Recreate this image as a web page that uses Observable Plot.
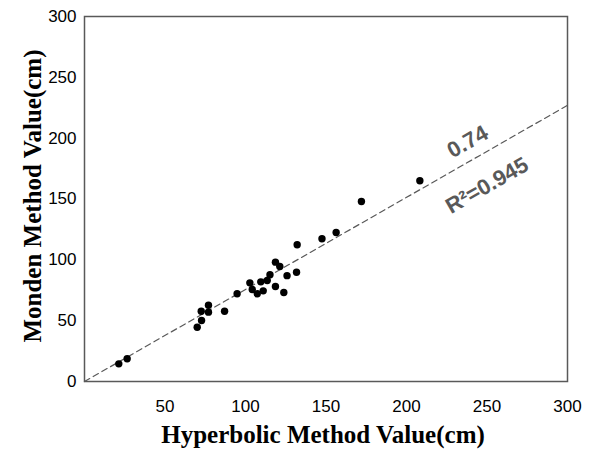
<!DOCTYPE html>
<html>
<head>
<meta charset="utf-8">
<script src="https://cdn.jsdelivr.net/npm/d3@7"></script>
<script src="https://cdn.jsdelivr.net/npm/@observablehq/plot@0.6"></script>
<style>
  html, body { margin: 0; padding: 0; background: #fff; }
</style>
</head>
<body>
<div id="chart"></div>
<script>
const hyperbolic = [21.3, 26.5, 70.0, 72.7, 72.5, 77.0, 77.0, 87.0, 94.8, 102.7, 104.2, 107.3, 109.5, 111.0, 113.5, 115.2, 118.6, 121.3, 118.6, 123.8, 125.8, 131.7, 132.1, 147.5, 156.3, 172.0, 208.3];
const monden     = [14.5, 18.7, 44.6, 50.1, 57.8, 57.0, 62.7, 57.8, 72.1, 81.1, 75.6, 72.1, 81.9, 74.5, 83.0, 87.7, 98.1, 94.5, 78.1, 73.1, 87.0, 89.8, 112.4, 117.3, 122.5, 147.9, 165.0];
const xTicks = [50, 100, 150, 200, 250, 300];
const yTicks = [0, 50, 100, 150, 200, 250, 300];
const fitLineX = [0, 300];
const fitLineY = [0, 227];
const slopeLabel = "0.74";
const r2Label = "R\u00B2=0.945";
const xTitle = "Hyperbolic Method Value(cm)";
const yTitle = "Monden Method Value(cm)";

const points = hyperbolic.map((x, i) => ({x, y: monden[i]}));
const fit = fitLineX.map((x, i) => ({x, y: fitLineY[i]}));
const angle = -29.7;

const chart = Plot.plot({
  width: 593,
  height: 452,
  marginLeft: 84,
  marginRight: 26,
  marginTop: 16,
  marginBottom: 71,
  style: {fontFamily: "Liberation Sans, Arial, sans-serif", background: "#fff", overflow: "visible"},
  x: {domain: [0, 300]},
  y: {domain: [0, 300]},
  marks: [
    Plot.frame({stroke: "#595959", strokeWidth: 1.5}),
    Plot.line(fit, {x: "x", y: "y", stroke: "#595959", strokeWidth: 1.2, strokeDasharray: "6,4"}),
    Plot.dot(points, {x: "x", y: "y", r: 3.7, fill: "#000", stroke: "none"}),
    Plot.axisX(xTicks, {tickSize: 0, tickPadding: 18, fontSize: 17, fill: "#000", label: null}),
    Plot.axisY(yTicks, {tickSize: 0, tickPadding: 8, fontSize: 17, fill: "#000", label: null}),
    Plot.text([slopeLabel], {x: 238, y: 197, text: d => d, rotate: angle, fontSize: 22, fontWeight: "bold", fill: "#595959"}),
    Plot.text([r2Label], {x: 250, y: 161, text: d => d, rotate: angle, fontSize: 22, fontWeight: "bold", fill: "#595959"}),
    Plot.text([xTitle], {frameAnchor: "bottom", dy: 61, dx: -3, text: d => d, textAnchor: "middle", fontSize: 25, fontWeight: "bold", fontFamily: "Liberation Serif, Times New Roman, serif", fill: "#000"}),
    Plot.text([yTitle], {frameAnchor: "left", dx: -52, dy: -3, rotate: -90, text: d => d, textAnchor: "middle", fontSize: 25, fontWeight: "bold", fontFamily: "Liberation Serif, Times New Roman, serif", fill: "#000"})
  ]
});
document.getElementById("chart").appendChild(chart);
</script>
</body>
</html>
